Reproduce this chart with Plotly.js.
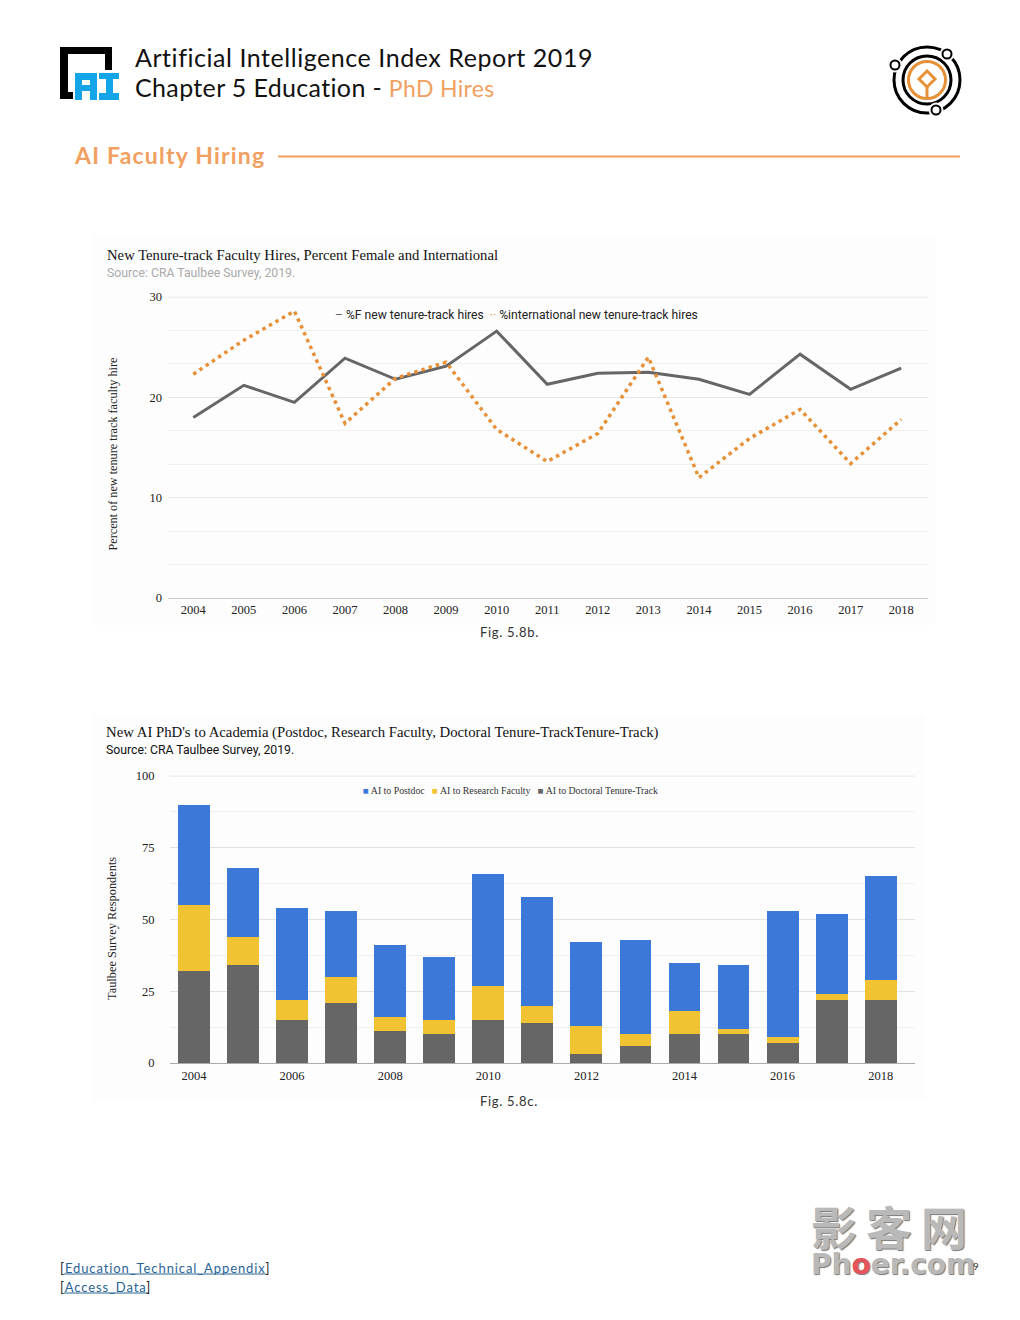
<!DOCTYPE html>
<html>
<head>
<meta charset="utf-8">
<script src="https://cdn.plot.ly/plotly-3.0.1.min.js"></script>
<style>
html,body{margin:0;padding:0;background:#fff;}
#chart{width:1020px;height:1320px;}
g.annotation[data-index="0"] text{letter-spacing:.55px;}
g.annotation[data-index="1"] text{letter-spacing:.35px;}
g.annotation[data-index="2"] text{letter-spacing:1.2px;}
g.annotation[data-index="3"] text,g.annotation[data-index="4"] text{letter-spacing:.7px;}
g.annotation[data-index="5"] text,g.annotation[data-index="6"] text{letter-spacing:.9px;}
g.annotation[data-index="13"] text{letter-spacing:9px;}
</style>
</head>
<body>
<div id="chart"></div>
<script>
var years = ['2004','2005','2006','2007','2008','2009','2010','2011','2012','2013','2014','2015','2016','2017','2018'];
var pctFemale = [18,21.2,19.5,23.9,21.8,23.1,26.6,21.3,22.4,22.5,21.8,20.3,24.3,20.8,22.9];
var pctInternational = [22.3,25.7,28.6,17.4,21.9,23.5,16.8,13.6,16.4,24,12,15.9,18.8,13.4,17.8];
var toDoctoral = [32,34,15,21,11,10,15,14,3,6,10,10,7,22,22];
var toResearch = [23,10,7,9,5,5,12,6,10,4,8,2,2,2,7];
var toPostdoc = [35,24,32,23,25,22,39,38,29,33,17,22,44,28,36];
var evenYears = ['2004','2006','2008','2010','2012','2014','2016','2018'];

var W = 1020, H = 1320;
function px(x){return x/W;}
function py(y){return 1-y/H;}
var GREY='#666666', ORANGE='#e69138', BLUE='#3c78d8', YELLOW='#f1c232', HEAD='#f0a060', LINK='#2a6496';
var SERIF='"Liberation Serif", serif', HEADF='Lato, sans-serif', ROBOTO='Roboto, sans-serif';

function note(text,x,y,size,color,family,anchor,extra){
  var a={text:text,xref:'paper',yref:'paper',x:px(x),y:py(y),xanchor:anchor||'left',yanchor:'middle',
    showarrow:false,align:'left',font:{size:size,color:color,family:family}};
  if(extra){for(var k in extra){a[k]=extra[k];}}
  return a;
}
function line(x0,y0,x1,y1,color,width){
  return {type:'line',xref:'paper',yref:'paper',x0:px(x0),y0:py(y0),x1:px(x1),y1:py(y1),line:{color:color,width:width}};
}
function rect(x0,y0,x1,y1,color,layer){
  return {type:'rect',xref:'paper',yref:'paper',x0:px(x0),y0:py(y0),x1:px(x1),y1:py(y1),fillcolor:color,line:{width:0},layer:layer||'above'};
}
function circle(cx,cy,r,stroke,width,fill){
  return {type:'circle',xref:'paper',yref:'paper',x0:px(cx-r),y0:py(cy-r),x1:px(cx+r),y1:py(cy+r),
    fillcolor:fill||'rgba(0,0,0,0)',line:{color:stroke,width:width}};
}
function poly(pts,stroke,width,fill){
  var d=pts.map(function(p,i){return (i?'L':'M')+px(p[0])+','+py(p[1]);}).join(' ')+' Z';
  return {type:'path',xref:'paper',yref:'paper',path:d,fillcolor:fill||'rgba(0,0,0,0)',line:{color:stroke,width:width}};
}
function topGrid(xa,ya,v,color){
  return {type:'line',xref:xa+' domain',yref:ya,x0:0,x1:1,y0:v,y1:v,line:{color:color,width:1},layer:'below'};
}

var traces = [
 {type:'scatter',mode:'lines',x:years,y:pctFemale,name:'%F new tenure-track hires',xaxis:'x',yaxis:'y',
  line:{color:GREY,width:3}},
 {type:'scatter',mode:'lines',x:years,y:pctInternational,name:'%international new tenure-track hires',xaxis:'x',yaxis:'y',
  line:{color:ORANGE,width:3.5,dash:'3.5px,4px'}},
 {type:'bar',x:years,y:toDoctoral,name:'AI to Doctoral Tenure-Track',xaxis:'x2',yaxis:'y2',marker:{color:GREY},width:0.65},
 {type:'bar',x:years,y:toResearch,name:'AI to Research Faculty',xaxis:'x2',yaxis:'y2',marker:{color:YELLOW},width:0.65},
 {type:'bar',x:years,y:toPostdoc,name:'AI to Postdoc',xaxis:'x2',yaxis:'y2',marker:{color:BLUE},width:0.65}
];

var annotations = [
 note('Artificial Intelligence Index Report 2019',133,57,25,'#111',HEADF),
 note('Chapter 5 Education - <span style="color:'+HEAD+';font-size:23px">PhD Hires</span>',133,87,25,'#111',HEADF),
 note('<b>AI Faculty Hiring</b>',71.5,155,23,HEAD,HEADF),
 note('Fig. 5.8b.',505.5,632,13,'#333',HEADF,'center'),
 note('Fig. 5.8c.',505.5,1101,13,'#333',HEADF,'center'),
 note('[<span style="color:'+LINK+'">Education_Technical_Appendix</span>]',58,1268,13,'#222',HEADF),
 note('[<span style="color:'+LINK+'">Access_Data</span>]',58,1287,13,'#222',HEADF),
 note('New Tenure-track Faculty Hires, Percent Female and International',105,255,14.7,'#111',SERIF),
 note('Source: CRA Taulbee Survey, 2019.',105,273,12.25,'#aaaaaa',ROBOTO),
 note('<span style="color:'+GREY+'">–</span> %F new tenure-track hires  <span style="color:'+ORANGE+'">··</span> %international new tenure-track hires',333,315,12.15,'#222',ROBOTO),
 note('New AI PhD\'s to Academia (Postdoc, Research Faculty, Doctoral Tenure-TrackTenure-Track)',104,732,14.75,'#111',SERIF),
 note('Source: CRA Taulbee Survey, 2019.',104,750,12.25,'#111',ROBOTO),
 note('<span style="color:'+BLUE+'">■</span> AI to Postdoc   <span style="color:'+YELLOW+'">■</span> AI to Research Faculty   <span style="color:'+GREY+'">■</span> AI to Doctoral Tenure-Track',361,790.5,9.8,'#333',SERIF),
 note('<b>影客网</b>',809,1225,46,'#b9b9b9','"Noto Sans CJK SC", sans-serif','left',{font:{size:46,color:'#b9b9b9',family:'"Noto Sans CJK SC", sans-serif',shadow:'1px 1px 1px #777'}}),
 note('<b>Ph<span style="color:#e5535b">o</span>er.com</b>',809,1264,28,'#b9b9b9','"DejaVu Sans", sans-serif','left',{font:{size:28,color:'#b9b9b9',family:'"DejaVu Sans", sans-serif',shadow:'1px 1px 1px #777'}}),
 note('9',971,1266,10,'#333',HEADF),
 note('Percent of new tenure track faculty hire',113,454.5,12.2,'#222',SERIF,'center',{textangle:-90}),
 note('Taulbee Survey Respondents',112,929,12.35,'#222',SERIF,'center',{textangle:-90})
];

var blk='#000000', AIB='#14a5e8';
var shapes = [
 // faint scan tint behind the two pasted charts
 rect(92,235,935,625,'#fdfdfd','below'),
 rect(92,715,925,1100,'#fdfdfd','below'),
 // top gridlines
 topGrid('x','y',30,'#e6e6e6'),
 topGrid('x2','y2',100,'#e2e2e2'),
 // section rule
 line(278,156.5,960,156.5,HEAD,2),
 // link underlines
 line(64,1274,266,1274,LINK,1),
 line(64,1293,149,1293,LINK,1),
 // AI logo: black bracket
 rect(60,47,68,99,blk), rect(60,47,112,54,blk), rect(105,47,112,70,blk), rect(60,92,73,99,blk),
 // AI logo: blue letter A
 rect(75,73,82,100,AIB), rect(90,73,97,100,AIB), rect(75,73,97,80,AIB), rect(75,85,97,91,AIB),
 // AI logo: blue letter I
 rect(99,73,119,79,AIB), rect(106,73,113,100,AIB), rect(99,93,119,100,AIB),
 // emblem
 circle(927,80,33,blk,3), circle(927,80,24,blk,3), circle(927,80,18.5,ORANGE,3),
 poly([[927,71],[935,79],[927,87],[919,79]],ORANGE,3),
 line(927,87,927,98,ORANGE,3),
 circle(947,54,7,'#fff',1,'#fff'), circle(895,65,7,'#fff',1,'#fff'), circle(936,110,7,'#fff',1,'#fff'),
 circle(947,54,4.5,blk,2,'#fff'), circle(895,65,4.5,blk,2,'#fff'), circle(936,110,4.5,blk,2,'#fff')
];

var layout = {
 width:W,height:H,margin:{l:0,r:0,t:0,b:0},paper_bgcolor:'#fff',plot_bgcolor:'rgba(0,0,0,0)',
 showlegend:false,barmode:'stack',
 font:{family:SERIF,size:12,color:'#222'},
 annotations:annotations,shapes:shapes,
 xaxis:{domain:[px(168),px(928)],anchor:'y',type:'category',categoryorder:'array',categoryarray:years,range:[-0.5,14.53],
   tickvals:years,ticktext:years,ticks:'',showgrid:false,showline:true,linecolor:'#cccccc',linewidth:1,zeroline:false,
   ticklabelstandoff:0,tickfont:{family:SERIF,size:12.5,color:'#222'}},
 yaxis:{domain:[py(598),py(296.5)],anchor:'x',range:[0,30.05],tickvals:[0,10,20,30],ticks:'',
   gridcolor:'#e6e6e6',gridwidth:1,zeroline:false,showline:false,
   minor:{dtick:10/3,tick0:0,showgrid:true,gridcolor:'#f0f0f0',gridwidth:1,ticks:''},
   ticklabelstandoff:5,tickfont:{family:SERIF,size:12.5,color:'#222'}},
 xaxis2:{domain:[px(169.5),px(915)],anchor:'y2',type:'category',categoryorder:'array',categoryarray:years,range:[-0.5,14.7],
   tickvals:evenYears,ticktext:evenYears,ticks:'',showgrid:false,showline:true,linecolor:'#aaaaaa',linewidth:1,zeroline:false,
   ticklabelstandoff:1,tickfont:{family:SERIF,size:12.5,color:'#222'}},
 yaxis2:{domain:[py(1063),py(775.4)],anchor:'x2',range:[0,100.2],tickvals:[0,25,50,75,100],ticks:'',
   gridcolor:'#e2e2e2',gridwidth:1,zeroline:false,showline:false,
   minor:{dtick:12.5,tick0:0,showgrid:true,gridcolor:'#efefef',gridwidth:1,ticks:''},
   ticklabelstandoff:14,tickfont:{family:SERIF,size:12.5,color:'#222'}}
};
Plotly.newPlot('chart',traces,layout,{displayModeBar:false,responsive:false});
</script>
</body>
</html>
